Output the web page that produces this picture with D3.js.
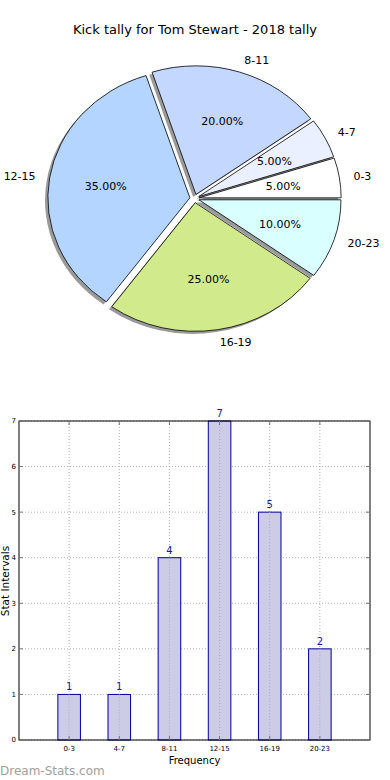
<!DOCTYPE html>
<html>
<head>
<meta charset="utf-8">
<script src="https://d3js.org/d3.v7.min.js"></script>
<style>
  body { margin: 0; background: #fff; }
  svg { display: block; font-family: "DejaVu Sans", sans-serif; }
</style>
</head>
<body>
<div id="chart"></div>
<script>
// data
var categories = ["0-3", "4-7", "8-11", "12-15", "16-19", "20-23"];
var counts = [1, 1, 4, 7, 5, 2];
var sliceColors = ["#ffffff", "#eaf0ff", "#c4d7ff", "#b3d5ff", "#d1ea8b", "#d9ffff"];
var yTicks = [0, 1, 2, 3, 4, 5, 6, 7];
var explode = 0.033;

var W = 390, H = 780;
var svg = d3.select("#chart").append("svg")
    .attr("width", W)
    .attr("height", H);

// ---------- pie (matplotlib style, elliptical, counter-clockwise from 3 o'clock)
var cx = 194.5, cy = 198.5, rx = 142, ry = 128.6;

svg.append("text")
    .attr("x", W / 2)
    .attr("y", 34)
    .attr("text-anchor", "middle")
    .style("font-size", "13px")
    .text("Kick tally for Tom Stewart - 2018 tally");

var pie = d3.pie().sort(null).value(function(d) { return d; })
    .startAngle(Math.PI / 2)
    .endAngle(Math.PI / 2 - 2 * Math.PI);
var arcs = pie(counts);
var total = d3.sum(counts);
var arc = d3.arc().innerRadius(0).outerRadius(1);

function mid(d) { return (d.startAngle + d.endAngle) / 2; }
function offX(d) { return cx + explode * rx * Math.sin(mid(d)); }
function offY(d) { return cy - explode * ry * Math.cos(mid(d)); }

var pieG = svg.append("g");

// shadows below all wedges
pieG.selectAll(".shadow")
  .data(arcs)
  .enter().append("path")
    .attr("class", "shadow")
    .attr("transform", function(d) {
      return "translate(" + (offX(d) - 0.02 * rx) + "," + (offY(d) + 0.02 * ry) + ") scale(" + rx + "," + ry + ")";
    })
    .attr("d", arc)
    .style("fill", "#9a9a9a");

pieG.selectAll(".wedge")
  .data(arcs)
  .enter().append("path")
    .attr("class", "wedge")
    .attr("transform", function(d) {
      return "translate(" + offX(d) + "," + offY(d) + ") scale(" + rx + "," + ry + ")";
    })
    .attr("d", arc)
    .attr("vector-effect", "non-scaling-stroke")
    .style("fill", function(d, i) { return sliceColors[i]; })
    .style("stroke", "#000")
    .style("stroke-width", 0.8);

// labels
pieG.selectAll(".lbl")
  .data(arcs)
  .enter().append("text")
    .attr("x", function(d) { return offX(d) + 1.1 * rx * Math.sin(mid(d)); })
    .attr("y", function(d) { return offY(d) - 1.1 * ry * Math.cos(mid(d)); })
    .attr("dy", "0.35em")
    .attr("text-anchor", function(d) { return Math.sin(mid(d)) > 0 ? "start" : "end"; })
    .style("font-size", "11px")
    .text(function(d, i) { return categories[i]; });

pieG.selectAll(".pct")
  .data(arcs)
  .enter().append("text")
    .attr("x", function(d) { return offX(d) + 0.6 * rx * Math.sin(mid(d)); })
    .attr("y", function(d) { return offY(d) - 0.6 * ry * Math.cos(mid(d)); })
    .attr("dy", "0.35em")
    .attr("text-anchor", "middle")
    .style("font-size", "11px")
    .text(function(d) { return (100 * d.value / total).toFixed(2) + "%"; });

// ---------- bar chart
var pLeft = 19, pRight = 370, pTop = 421, pBottom = 740;
var x = d3.scaleLinear().domain([-1, 6]).range([pLeft, pRight]);
var y = d3.scaleLinear().domain([0, 7]).range([pBottom, pTop]);
var barW = 0.45;

var bar = svg.append("g");

// grid
bar.selectAll(".gy")
  .data(yTicks)
  .enter().append("line")
    .attr("x1", pLeft).attr("x2", pRight)
    .attr("y1", function(d) { return y(d); })
    .attr("y2", function(d) { return y(d); })
    .style("stroke", "#b0b0b0")
    .style("stroke-dasharray", "1,2");

bar.selectAll(".gx")
  .data(categories)
  .enter().append("line")
    .attr("x1", function(d, i) { return x(i); })
    .attr("x2", function(d, i) { return x(i); })
    .attr("y1", pTop).attr("y2", pBottom)
    .style("stroke", "#b0b0b0")
    .style("stroke-dasharray", "1,2");

// bars
bar.selectAll(".bar")
  .data(counts)
  .enter().append("rect")
    .attr("x", function(d, i) { return x(i - barW / 2); })
    .attr("width", function() { return x(barW) - x(0); })
    .attr("y", function(d) { return y(d); })
    .attr("height", function(d) { return y(0) - y(d); })
    .style("fill", "#ccccE6")
    .style("stroke", "#000099")
    .style("stroke-width", 1);

// vertical grid shows through bars
bar.selectAll(".gx2")
  .data(categories)
  .enter().append("line")
    .attr("x1", function(d, i) { return x(i); })
    .attr("x2", function(d, i) { return x(i); })
    .attr("y1", function(d, i) { return y(counts[i]); }).attr("y2", pBottom)
    .style("stroke", "#a8a8b8")
    .style("stroke-dasharray", "1,2");

bar.selectAll(".val")
  .data(counts)
  .enter().append("text")
    .attr("x", function(d, i) { return x(i); })
    .attr("y", function(d) { return y(d) - 4; })
    .attr("text-anchor", "middle")
    .style("font-size", "10px")
    .style("fill", "#1a1a9a")
    .text(function(d) { return d; });

// frame
bar.append("rect")
    .attr("x", pLeft).attr("y", pTop)
    .attr("width", pRight - pLeft).attr("height", pBottom - pTop)
    .style("fill", "none")
    .style("stroke", "#000")
    .style("stroke-width", 1);

// ticks (inward, both sides)
yTicks.forEach(function(t) {
  bar.append("line").attr("x1", pLeft).attr("x2", pLeft + 4)
      .attr("y1", y(t)).attr("y2", y(t)).style("stroke", "#777");
  bar.append("line").attr("x1", pRight - 4).attr("x2", pRight)
      .attr("y1", y(t)).attr("y2", y(t)).style("stroke", "#777");
});
categories.forEach(function(c, i) {
  bar.append("line").attr("x1", x(i)).attr("x2", x(i))
      .attr("y1", pBottom).attr("y2", pBottom - 4).style("stroke", "#777");
  bar.append("line").attr("x1", x(i)).attr("x2", x(i))
      .attr("y1", pTop).attr("y2", pTop + 4).style("stroke", "#777");
});

bar.selectAll(".yl")
  .data(yTicks)
  .enter().append("text")
    .attr("x", pLeft - 3)
    .attr("y", function(d) { return y(d); })
    .attr("dy", "0.35em")
    .attr("text-anchor", "end")
    .style("font-size", "7px")
    .text(function(d) { return d; });

bar.selectAll(".xl")
  .data(categories)
  .enter().append("text")
    .attr("x", function(d, i) { return x(i); })
    .attr("y", pBottom + 11)
    .attr("text-anchor", "middle")
    .style("font-size", "7px")
    .text(function(d) { return d; });

bar.append("text")
    .attr("x", (pLeft + pRight) / 2)
    .attr("y", 764)
    .attr("text-anchor", "middle")
    .style("font-size", "10px")
    .text("Frequency");

bar.append("text")
    .attr("transform", "translate(9,581) rotate(-90)")
    .attr("text-anchor", "middle")
    .style("font-size", "10.5px")
    .text("Stat Intervals");

// watermark
svg.append("text")
    .attr("x", 0)
    .attr("y", 775)
    .style("font-size", "12px")
    .style("fill", "#a0a0a0")
    .text("Dream-Stats.com");
</script>
</body>
</html>
